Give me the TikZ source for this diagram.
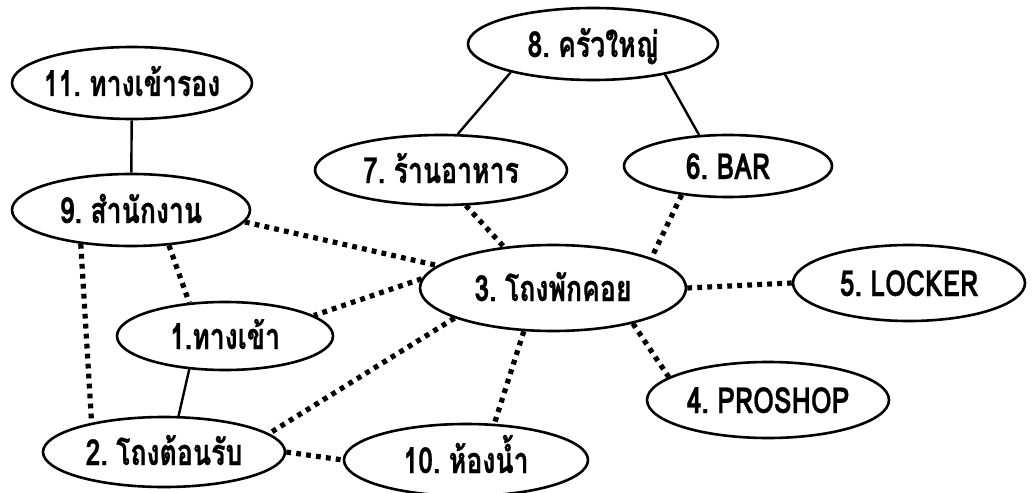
\documentclass[tikz,border=0pt]{standalone}
\usepackage{fontspec}
\newfontfamily\thaifont[Script=Thai, FakeStretch=0.74, WordSpace=0.6, BoldFeatures={FakeBold=0.6}]{Loma}
\usetikzlibrary{shapes.geometric}
\begin{document}
\begin{tikzpicture}[x=0.5pt,y=-0.5pt,
  place/.style={ellipse, draw, line width=1.3pt, inner xsep=-8pt, inner ysep=0pt,
    text height=15pt, text depth=2pt,
    font=\thaifont\bfseries\fontsize{18}{20}\selectfont},
  solidlink/.style={line width=1.2pt},
  dotlink/.style={line width=2.6pt, dash pattern=on 2.4pt off 2.6pt}]
\useasboundingbox (0,0) rectangle (1032,492);
\node[place, minimum width=120pt, minimum height=36pt] (n11) at (132,83) {11. ทางเข้ารอง};
\node[place, minimum width=119pt, minimum height=36pt] (n9) at (131,210) {9. สำนักงาน};
\node[place, minimum width=125pt, minimum height=36pt] (n8) at (593,44) {8. ครัวใหญ่};
\node[place, minimum width=126pt, minimum height=35pt] (n7) at (441,170) {7. ร้านอาหาร};
\node[place, minimum width=104pt, minimum height=31pt] (n6) at (728,166) {6. BAR};
\node[place, minimum width=133pt, minimum height=43pt] (n3) at (553,288) {3. โถงพักคอย};
\node[place, minimum width=116pt, minimum height=38pt] (n5) at (909,283) {5. LOCKER};
\node[place, minimum width=108pt, minimum height=34pt] (n1) at (225,336) {1.ทางเข้า};
\node[place, minimum width=121pt, minimum height=38pt] (n4) at (768,400) {4. PROSHOP};
\node[place, minimum width=121pt, minimum height=35pt] (n2) at (164,452) {2. โถงต้อนรับ};
\node[place, minimum width=122pt, minimum height=36pt] (n10) at (466,460) {10. ห้องน้ำ};
\draw[solidlink] (n11) -- (n9);
\draw[solidlink] (n8.199) -- (n7.65);
\draw[solidlink] (n8.337) -- (n6.133);
\draw[solidlink] (n1.223) -- (n2.68);
\draw[dotlink] (n9.354) -- (n3.169);
\draw[dotlink] (n9.317) -- (n1.137);
\draw[dotlink] (n9.214) -- (n2.158);
\draw[dotlink] (n7.305) -- (n3.140);
\draw[dotlink] (n6.212) -- (n3.17);
\draw[dotlink] (n3.east) -- (n5.west);
\draw[dotlink] (n3.176) -- (n1.13);
\draw[dotlink] (n3.197) -- (n2.10);
\draw[dotlink] (n3.236) -- (n10.52);
\draw[dotlink] (n3.336) -- (n4.167);
\draw[dotlink] (n2.east) -- (n10.west);
\end{tikzpicture}
\end{document}
